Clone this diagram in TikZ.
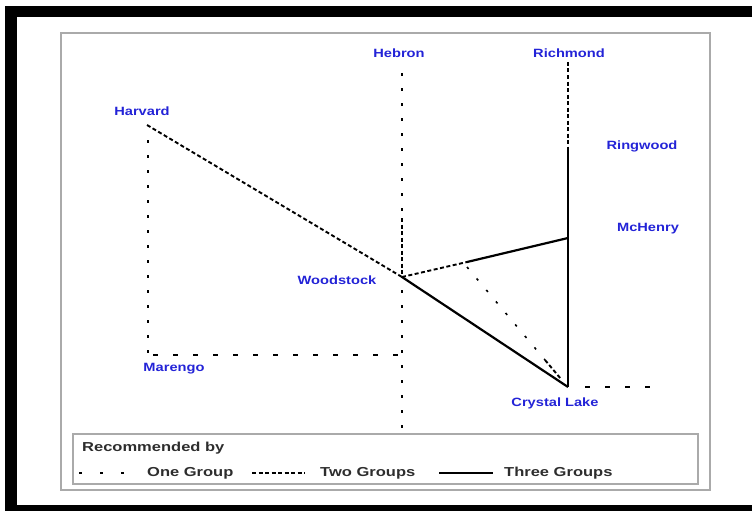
\documentclass[tikz,border=0pt]{standalone}
\usepackage{fontspec}
\newfontfamily\labfont{Liberation Sans}[FakeStretch=1.22]
\newfontfamily\legfont{Liberation Sans}[FakeStretch=1.27]
\definecolor{labblue}{RGB}{35,35,215}
\definecolor{legtext}{RGB}{45,45,45}
\definecolor{framegray}{RGB}{170,170,170}
\begin{document}
\begin{tikzpicture}[x=1pt,y=-1pt,
  lab/.style={text=labblue, font=\labfont\bfseries\fontsize{12}{14}\selectfont, inner sep=0pt},
  leg/.style={text=legtext, font=\legfont\bfseries\fontsize{13}{15}\selectfont, inner sep=0pt, anchor=west},
  onev/.style={line width=1.6pt, dash pattern=on 2.5pt off 12.5pt},
  oneh/.style={line width=1.6pt, dash pattern=on 5pt off 15pt},
  two/.style={line width=1.9pt, dash pattern=on 4pt off 2.5pt},
  three/.style={line width=2.2pt},
  frame/.style={draw=framegray, line width=1.8pt}]
\useasboundingbox (0,0) rectangle (752,511);
% black outer frame
\fill[black] (5,6) rectangle (752,17);
\fill[black] (5,6) rectangle (17,511);
\fill[black] (5,505) rectangle (752,511);
% gray frames
\draw[frame] (61,33) rectangle (710,490);
\draw[frame] (73,434) rectangle (698,484);
% points
\coordinate (harvard) at (147,125);
\coordinate (woodstock) at (402,277);
\coordinate (crystal) at (568,387);
\coordinate (richmond) at (568,62);
\coordinate (rbreak) at (568,150);
\coordinate (mchenry) at (568,238);
\coordinate (mbreak) at (467,262);
\coordinate (marengo) at (148,355);
\coordinate (mstart) at (153,355);
\coordinate (mjoin) at (400,355);
\coordinate (hvtop) at (148,140);
\coordinate (hebron) at (402,73);
\coordinate (hbreak) at (402,218);
\coordinate (wsouth) at (402,290);
\coordinate (south) at (402,430);
\coordinate (dstart) at (467,267);
\coordinate (dbreak) at (545,360);
\coordinate (dend) at (561,379);
\coordinate (eaststart) at (585,387);
\coordinate (east) at (653,387);
% connectors
\draw[two] (harvard) -- (woodstock);
\draw[onev] (hvtop) -- (marengo);
\draw[oneh] (mstart) -- (mjoin);
\draw[onev] (hebron) -- (hbreak);
\draw[two] (hbreak) -- (woodstock);
\draw[onev] (wsouth) -- (south);
\draw[two] (richmond) -- (rbreak);
\draw[three] (rbreak) -- (crystal);
\draw[two] (woodstock) -- (mbreak);
\draw[three] (mbreak) -- (mchenry);
\draw[three] (woodstock) -- (crystal);
\draw[onev] (dstart) -- (dbreak);
\draw[two] (dbreak) -- (dend);
\draw[oneh] (eaststart) -- (east);
% labels
\node[lab] (lhebron) at (399,53) {Hebron};
\node[lab] (lrichmond) at (569,53) {Richmond};
\node[lab] (lharvard) at (142,111) {Harvard};
\node[lab] (lringwood) at (642,146) {Ringwood};
\node[lab] (lmchenry) at (648,229) {McHenry};
\node[lab] (lwoodstock) at (337,280) {Woodstock};
\node[lab] (lmarengo) at (174,369) {Marengo};
\node[lab] (lcrystal) at (555,403) {Crystal Lake};
% legend
\node[leg] (rec) at (82,448) {Recommended by};
\coordinate (s1a) at (79,473);
\coordinate (s1b) at (125,473);
\draw[line width=1.5pt, dash pattern=on 3pt off 18pt] (s1a) -- (s1b);
\node[leg] (g1) at (147,473) {One Group};
\coordinate (s2a) at (252,473);
\coordinate (s2b) at (305,473);
\draw[line width=1.5pt, dash pattern=on 4pt off 2.5pt] (s2a) -- (s2b);
\node[leg] (g2) at (320,473) {Two Groups};
\coordinate (s3a) at (439,473);
\coordinate (s3b) at (493,473);
\draw[line width=1.8pt] (s3a) -- (s3b);
\node[leg] (g3) at (504,473) {Three Groups};
\end{tikzpicture}
\end{document}
